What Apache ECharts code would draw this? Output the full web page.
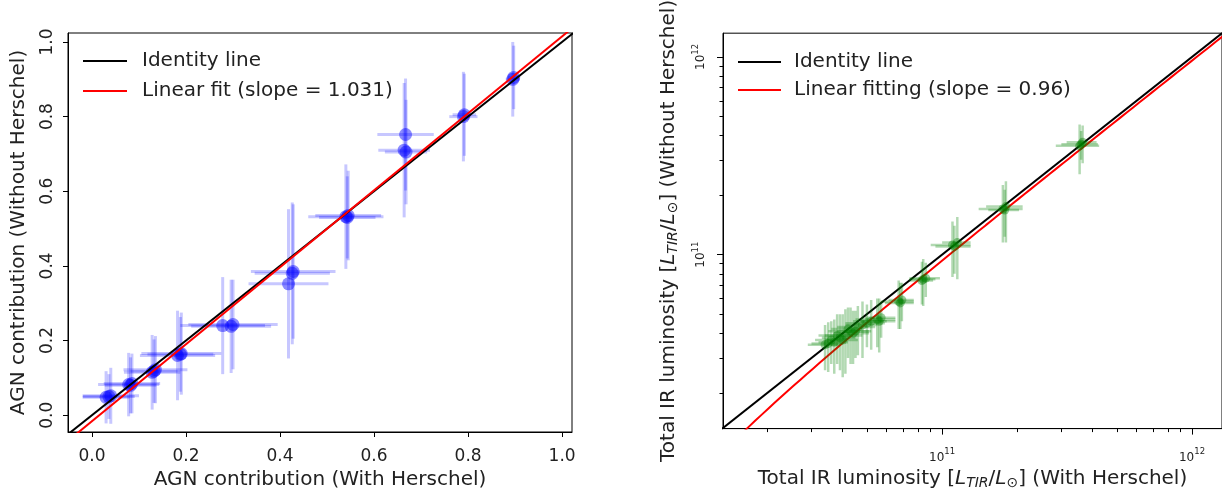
<!DOCTYPE html>
<html>
<head>
<meta charset="utf-8">
<script src="https://cdn.jsdelivr.net/npm/echarts@6/dist/echarts.min.js"></script>
<style>
html,body{margin:0;padding:0;background:#fff;}
#c{width:1222px;height:495px;}
</style>
</head>
<body>
<div id="c"></div>
<script>
// ---------- Left panel: AGN contribution ----------
const agnWith    = [0.030,0.040,0.036, 0.078,0.085,0.082, 0.128,0.135,0.132, 0.182,0.190,0.188, 0.278,0.300,0.296, 0.418,0.428,0.426, 0.540,0.545,0.543, 0.664,0.667,0.668, 0.790,0.792, 0.895,0.897];
const agnWithout = [0.048,0.052,0.050, 0.082,0.085,0.080, 0.115,0.122,0.118, 0.160,0.165,0.163, 0.240,0.243,0.238, 0.352,0.385,0.380, 0.532,0.535,0.530, 0.710,0.752,0.705, 0.800,0.805, 0.900,0.905];
const agnWithErr = [0.050,0.060,0.055, 0.065,0.060,0.055, 0.060,0.068,0.050, 0.080,0.085,0.070, 0.090,0.095,0.085, 0.085,0.090,0.080, 0.080,0.070,0.060, 0.055,0.060,0.045, 0.030,0.025, 0.015,0.012];
const agnWithoutErr = [0.070,0.075,0.060, 0.085,0.080,0.075, 0.100,0.090,0.085, 0.120,0.110,0.100, 0.130,0.120,0.125, 0.200,0.180,0.190, 0.140,0.120,0.110, 0.180,0.150,0.140, 0.120,0.110, 0.100,0.085];
const agnFitSlope = 1.031;
const agnFitIntercept = -0.016;
const agnTicks = [0.0, 0.2, 0.4, 0.6, 0.8, 1.0];

// ---------- Right panel: total IR luminosity ----------
const lirWith    = [3.55e11,3.65e11,3.60e11, 1.75e11,1.80e11,1.78e11, 1.10e11,1.15e11,1.12e11, 8.4e10,8.6e10,8.3e10, 6.7e10,6.9e10,6.8e10, 5.5e10,5.7e10,5.6e10, 4.6e10,4.8e10,5.0e10,5.2e10, 4.3e10,4.1e10,4.2e10,4.5e10, 3.9e10,3.7e10,3.5e10,4.0e10,4.4e10,3.6e10,3.8e10,3.4e10];
const lirWithout = [3.55e11,3.70e11,3.62e11, 1.70e11,1.75e11,1.68e11, 1.12e11,1.15e11,1.10e11, 7.5e10,7.6e10,7.4e10, 5.8e10,5.9e10,5.7e10, 4.7e10,4.8e10,4.6e10, 4.3e10,4.4e10,4.5e10,4.6e10, 4.1e10,3.9e10,4.2e10,4.1e10, 3.8e10,3.6e10,3.55e10,3.7e10,4.0e10,3.7e10,3.9e10,3.5e10];
const lirWithErr = [0.7e11,0.5e11,0.6e11, 0.35e11,0.30e11,0.25e11, 0.20e11,0.15e11,0.18e11, 1.0e10,1.2e10,0.9e10, 1.0e10,0.8e10,0.9e10, 1.0e10,0.8e10,0.9e10, 0.8e10,0.7e10,0.9e10,0.8e10, 0.8e10,0.7e10,0.6e10,0.7e10, 0.6e10,0.5e10,0.5e10,0.6e10,0.7e10,0.5e10,0.6e10,0.5e10];
const lirWithoutErr = [1.0e11,0.8e11,0.6e11, 0.55e11,0.60e11,0.45e11, 0.35e11,0.40e11,0.30e11, 2.0e10,1.5e10,1.8e10, 1.6e10,1.3e10,1.5e10, 1.3e10,1.0e10,1.4e10, 1.2e10,1.4e10,1.1e10,1.3e10, 1.3e10,1.4e10,1.2e10,1.1e10, 1.2e10,1.1e10,1.0e10,1.3e10,1.2e10,0.9e10,1.1e10,0.9e10];
const lirFitSlope = 0.96;
const lirFitIntercept = -2.7e9;
const lirMajorTicks = [1e11, 1e12];
const lirMinorTicks = [2e10,3e10,4e10,5e10,6e10,7e10,8e10,9e10,2e11,3e11,4e11,5e11,6e11,7e11,8e11,9e11];

// axis extents
const L_MIN_X = -0.051, L_MAX_X = 1.021, L_MIN_Y = -0.045, L_MAX_Y = 1.024;
const R_MIN = Math.pow(10, 10.123), R_MAX_X = Math.pow(10, 12.12);
const R_MIN_Y = Math.pow(10, 10.12), R_MAX_Y = Math.pow(10, 12.12);

const FONT = 'DejaVu Sans';
const TXT = '#222';

function errData(xs, ys, xe, ye) { return xs.map((x, i) => [x, ys[i], xe[i], ye[i]]); }
function errRender(color, w) {
  return function (params, api) {
    const x = api.value(0), y = api.value(1), xe = api.value(2), ye = api.value(3);
    const h1 = api.coord([x - xe, y]), h2 = api.coord([x + xe, y]);
    const v1 = api.coord([x, y - ye]), v2 = api.coord([x, y + ye]);
    const st = { stroke: color, lineWidth: w };
    return { type: 'group', children: [
      { type: 'line', shape: { x1: h1[0], y1: h1[1], x2: h2[0], y2: h2[1] }, style: st },
      { type: 'line', shape: { x1: v1[0], y1: v1[1], x2: v2[0], y2: v2[1] }, style: st }
    ]};
  };
}

// fit line for right panel (straight in linear space -> curved on log axes)
const lirFitXs = [];
for (let k = 0; k <= 80; k++) lirFitXs.push(Math.pow(10, 10.15 + k * (12.2 - 10.15) / 80));
const lirFitLine = lirFitXs.map(x => [x, lirFitSlope * x + lirFitIntercept]);

const supFmt = v => '{b|10}{s|' + Math.round(Math.log10(v)) + '}';
const supRich = {
  b: { fontSize: 12, fontFamily: FONT, color: TXT, verticalAlign: 'bottom', lineHeight: 16 },
  s: { fontSize: 8.5, fontFamily: FONT, color: TXT, verticalAlign: 'top', lineHeight: 16 }
};
const nameRich = {
  n: { fontSize: 20, fontFamily: FONT, color: TXT },
  i: { fontSize: 20, fontFamily: FONT, color: TXT, fontStyle: 'italic' },
  sub: { fontSize: 14, fontFamily: FONT, color: TXT, fontStyle: 'italic', verticalAlign: 'bottom', padding: [9, 0, 0, 0] },
  subn: { fontSize: 14, fontFamily: FONT, color: TXT, verticalAlign: 'bottom', padding: [9, 0, 0, 0] }
};

const axLine = { show: true, onZero: false, lineStyle: { color: '#000', width: 1 } };

const option = {
  animation: false,
  backgroundColor: '#fff',
  textStyle: { fontFamily: FONT },
  grid: [
    { left: 68, top: 33, width: 504, height: 400, show: true, borderColor: '#000', borderWidth: 1 },
    { left: 723, top: 33, right: -4, height: 400, show: true, borderColor: '#000', borderWidth: 1 }
  ],
  legend: [
    { data: ['Identity line', 'Linear fit (slope = 1.031)'], left: 83, top: 51, orient: 'vertical', padding: 0,
      icon: 'rect', itemWidth: 44, itemHeight: 2, itemGap: 10,
      textStyle: { fontSize: 20, fontFamily: FONT, color: TXT, lineHeight: 20, padding: [0, 0, 0, 10] } },
    { data: ['Identity line ', 'Linear fitting (slope = 0.96)'], left: 738, top: 52, orient: 'vertical', padding: 0,
      icon: 'rect', itemWidth: 43, itemHeight: 2, itemGap: 8,
      textStyle: { fontSize: 20, fontFamily: FONT, color: TXT, lineHeight: 20, padding: [0, 0, 0, 8] } }
  ],
  xAxis: [
    { gridIndex: 0, type: 'value', min: L_MIN_X, max: L_MAX_X,
      name: 'AGN contribution (With Herschel)', nameLocation: 'middle', nameGap: 38,
      nameTextStyle: { fontSize: 20, fontFamily: FONT, color: TXT },
      axisLine: axLine, splitLine: { show: false },
      axisTick: { show: true, inside: false, length: 5, customValues: agnTicks, lineStyle: { color: '#000' } },
      axisLabel: { customValues: agnTicks, formatter: v => v.toFixed(1), fontSize: 17, fontFamily: FONT, color: TXT, margin: 16 } },
    { gridIndex: 1, type: 'log', logBase: 10, min: R_MIN, max: R_MAX_X,
      name: '{n|Total IR luminosity [}{i|L}{sub|TIR}{n|/}{i|L}{subn|⊙}{n|] (With Herschel)}',
      nameLocation: 'middle', nameGap: 38,
      nameTextStyle: { fontSize: 20, fontFamily: FONT, color: TXT, rich: nameRich },
      axisLine: axLine, splitLine: { show: false },
      axisTick: { show: true, length: 6, customValues: lirMajorTicks, lineStyle: { color: '#000' } },
      axisLabel: { customValues: lirMajorTicks, formatter: supFmt, rich: supRich, margin: 19 } },
    { gridIndex: 1, type: 'log', logBase: 10, min: R_MIN, max: R_MAX_X, position: 'bottom', offset: 0,
      axisLine: { show: false, onZero: false }, splitLine: { show: false },
      axisTick: { show: true, length: 3.5, customValues: lirMinorTicks, lineStyle: { color: '#000' } },
      axisLabel: { show: false } }
  ],
  yAxis: [
    { gridIndex: 0, type: 'value', min: L_MIN_Y, max: L_MAX_Y,
      name: 'AGN contribution (Without Herschel)', nameLocation: 'middle', nameGap: 39,
      nameTextStyle: { fontSize: 20, fontFamily: FONT, color: TXT },
      axisLine: axLine, splitLine: { show: false },
      axisTick: { show: true, length: 5, customValues: agnTicks, lineStyle: { color: '#000' } },
      axisLabel: { customValues: agnTicks, formatter: v => v.toFixed(1), rotate: 90, fontSize: 17, fontFamily: FONT, color: TXT, margin: 12 } },
    { gridIndex: 1, type: 'log', logBase: 10, min: R_MIN_Y, max: R_MAX_Y,
      name: '{n|Total IR luminosity [}{i|L}{sub|TIR}{n|/}{i|L}{subn|⊙}{n|] (Without Herschel)}',
      nameLocation: 'middle', nameGap: 43,
      nameTextStyle: { fontSize: 20, fontFamily: FONT, color: TXT, rich: nameRich },
      axisLine: axLine, splitLine: { show: false },
      axisTick: { show: true, length: 6, customValues: lirMajorTicks, lineStyle: { color: '#000' } },
      axisLabel: { customValues: lirMajorTicks, formatter: supFmt, rich: supRich, rotate: 90, margin: 16 } },
    { gridIndex: 1, type: 'log', logBase: 10, min: R_MIN_Y, max: R_MAX_Y, position: 'left', offset: 0,
      axisLine: { show: false, onZero: false }, splitLine: { show: false },
      axisTick: { show: true, length: 3.5, customValues: lirMinorTicks, lineStyle: { color: '#000' } },
      axisLabel: { show: false } }
  ],
  series: [
    // left panel
    { type: 'custom', name: 'agnErr', xAxisIndex: 0, yAxisIndex: 0, clip: true,
      renderItem: errRender('rgba(0,0,255,0.22)', 3), encode: { x: 0, y: 1 },
      data: errData(agnWith, agnWithout, agnWithErr, agnWithoutErr), z: 2 },
    { type: 'scatter', name: 'agnPts', xAxisIndex: 0, yAxisIndex: 0, symbol: 'circle', symbolSize: 13,
      itemStyle: { color: '#0000ff', opacity: 0.45 }, data: agnWith.map((x, i) => [x, agnWithout[i]]), z: 3 },
    { type: 'line', name: 'Identity line', xAxisIndex: 0, yAxisIndex: 0, symbol: 'none', clip: true,
      lineStyle: { color: '#000', width: 2 }, itemStyle: { color: '#000' },
      data: [[-0.2, -0.2], [1.2, 1.2]], z: 4 },
    { type: 'line', name: 'Linear fit (slope = 1.031)', xAxisIndex: 0, yAxisIndex: 0, symbol: 'none', clip: true,
      lineStyle: { color: '#ff0000', width: 2 }, itemStyle: { color: '#ff0000' },
      data: [[-0.2, agnFitSlope * -0.2 + agnFitIntercept], [1.2, agnFitSlope * 1.2 + agnFitIntercept]], z: 5 },
    // right panel
    { type: 'line', name: 'Identity line ', xAxisIndex: 1, yAxisIndex: 1, symbol: 'none', clip: true,
      lineStyle: { color: '#000', width: 2 }, itemStyle: { color: '#000' },
      data: [[1e10, 1e10], [1e13, 1e13]], z: 2 },
    { type: 'line', name: 'Linear fitting (slope = 0.96)', xAxisIndex: 1, yAxisIndex: 1, symbol: 'none', clip: true,
      lineStyle: { color: '#ff0000', width: 2 }, itemStyle: { color: '#ff0000' },
      data: lirFitLine, z: 3 },
    { type: 'custom', name: 'lirErr', xAxisIndex: 1, yAxisIndex: 1, clip: true,
      renderItem: errRender('rgba(0,128,0,0.3)', 2.5), encode: { x: 0, y: 1 },
      data: errData(lirWith, lirWithout, lirWithErr, lirWithoutErr), z: 4 },
    { type: 'scatter', name: 'lirPts', xAxisIndex: 1, yAxisIndex: 1, symbol: 'circle', symbolSize: 9,
      itemStyle: { color: '#008000', opacity: 0.4 }, data: lirWith.map((x, i) => [x, lirWithout[i]]), z: 5 }
  ]
};

const chart = echarts.init(document.getElementById('c'), null, { renderer: 'canvas' });
chart.setOption(option);
</script>
</body>
</html>
